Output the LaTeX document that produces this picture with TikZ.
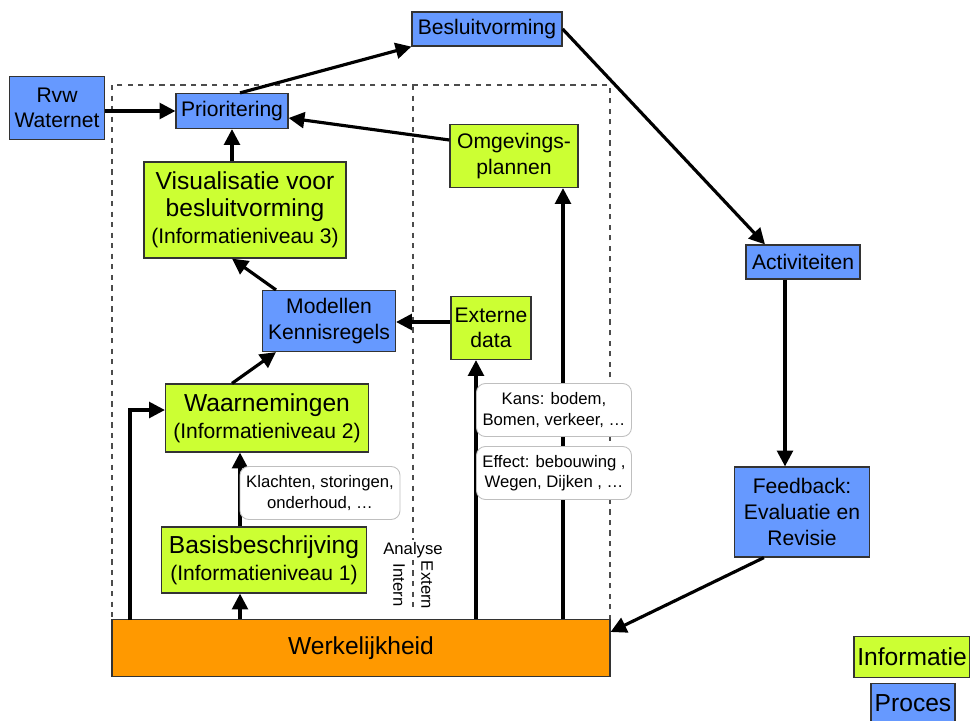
\documentclass[tikz,border=0pt]{standalone}
\usepackage{fontspec}
\setmainfont{Liberation Sans}
\usetikzlibrary{arrows.meta,calc}
\definecolor{infogreen}{RGB}{204,255,51}
\definecolor{procblue}{RGB}{102,153,255}
\definecolor{realorange}{RGB}{255,153,0}
\tikzset{
  box/.style={draw=black!80, line width=0.7pt, align=center, inner sep=1pt},
  info/.style={box, fill=infogreen},
  proc/.style={box, fill=procblue, font=\fontsize{12}{14.5}\selectfont},
  note/.style={draw=black!25, line width=0.5pt, rounded corners=5pt, fill=white, align=center,
    font=\fontsize{9.5}{11.5}\selectfont, minimum height=1.06cm},
  arr/.style={line width=1.8pt, -{Triangle[length=9pt,width=9pt]}},
}
\begin{document}
\begin{tikzpicture}[x=0.02cm, y=-0.02cm]
\useasboundingbox (0,0) rectangle (970,720);
% frame of the analysis
\draw[dashed, black!70, line width=0.7pt] (112,85) rectangle (610,620);
\node[font=\fontsize{9.5}{11}\selectfont, inner sep=1pt] (analyse) at (413,550) {Analyse};
\draw[dashed, black!70, line width=0.7pt] (413,85) -- (analyse.north);
\draw[dashed, black!70, line width=0.7pt] (analyse.south) -- (413,612);
\node[rotate=-90, font=\fontsize{9.5}{11}\selectfont, inner sep=0pt] (intern) at (399,585) {Intern};
\node[rotate=-90, font=\fontsize{9.5}{11}\selectfont, inner sep=0pt] (extern) at (427,585) {Extern};
% process boxes
\node[proc, minimum width=3cm, minimum height=0.68cm] (besluit) at (487,29) {Besluitvorming};
\node[proc, minimum width=1.9cm, minimum height=1.26cm] (rvw) at (57,108) {Rvw\\Waternet};
\node[proc, minimum width=2.24cm, minimum height=0.7cm] (prio) at (232,111) {Prioritering};
\node[proc, minimum width=2.66cm, minimum height=1.22cm] (model) at (329,321) {Modellen\\Kennisregels};
\node[proc, minimum width=2.28cm, minimum height=0.68cm] (activ) at (803,262) {Activiteiten};
\node[proc, minimum width=2.7cm, minimum height=1.8cm, font=\fontsize{12}{15}\selectfont] (feedback) at (802,512) {Feedback:\\Evaluatie en\\Revisie};
% information boxes
\node[info, minimum width=2.56cm, minimum height=1.26cm, font=\fontsize{12}{14.5}\selectfont] (omg) at (514,156) {Omgevings-\\plannen};
\node[info, minimum width=1.6cm, minimum height=1.26cm, font=\fontsize{12}{14.5}\selectfont] (externdata) at (491,328) {Externe\\data};
\node[info, minimum width=4.04cm, minimum height=1.92cm, font=\fontsize{14}{15.5}\selectfont] (visual) at (245,210)
  {Visualisatie voor\\besluitvorming\\{\fontsize{12}{14}\selectfont (Informatieniveau 3)}};
\node[info, minimum width=4.06cm, minimum height=1.36cm, font=\fontsize{14}{15.5}\selectfont] (waarn) at (267,418)
  {Waarnemingen\\{\fontsize{12}{14}\selectfont (Informatieniveau 2)}};
\node[info, minimum width=4.1cm, minimum height=1.32cm, font=\fontsize{14}{15.5}\selectfont] (basis) at (264,560)
  {Basisbeschrijving\\{\fontsize{12}{14}\selectfont (Informatieniveau 1)}};
\node[box, fill=realorange, minimum width=9.96cm, minimum height=1.14cm, font=\fontsize{14}{16}\selectfont] (werk) at (361,648) {Werkelijkheid};
% arrows
\draw[arr] (rvw.east |- prio.west) -- (prio.west);
\draw[arr] ($(prio.north)+(8,0)$) -- (besluit.south west);
\draw[arr] (besluit.east) -- ($(activ.north)+(-38,0)$);
\coordinate (a1) at ($(activ.south)+(-18,0)$);
\draw[arr] (a1) -- (a1 |- feedback.north);
\draw[arr] ($(feedback.south west)+(30,0)$) -- ($(werk.east)+(0,-16)$);
\draw[arr] ($(omg.west)+(0,-16)$) -- ($(prio.east)+(0,7)$);
\draw[arr] ($(visual.north)+(-13,0)$) -- (prio.south);
\draw[arr] ($(model.north)+(-53,0)$) -- ($(visual.south)+(-13,0)$);
\coordinate (e1) at ($(externdata.west)+(0,-6)$);
\draw[arr] (e1) -- (e1 -| model.east);
\draw[arr] ($(waarn.north)+(-35,0)$) -- ($(model.south)+(-53,0)$);
\coordinate (b1) at ($(basis.north)+(-24,0)$);
\draw[arr] (b1) -- (b1 |- waarn.south);
\draw[arr] (b1 |- werk.north) -- (b1 |- basis.south);
\coordinate (w1) at ($(waarn.west)+(0,-8)$);
\draw[arr] (130,620) |- (w1);
\coordinate (x1) at ($(externdata.south)+(-15,0)$);
\draw[arr] (x1 |- werk.north) -- (x1);
\coordinate (o1) at ($(omg.south)+(49,0)$);
\draw[arr] (o1 |- werk.north) -- (o1);
% notes
\node[note, minimum width=3.2cm] (klacht) at (320,493) {Klachten, storingen,\\onderhoud, \dots};
\node[note, minimum width=3.1cm] (kans) at (554,410) {Kans: bodem,\\Bomen, verkeer, \dots};
\node[note, minimum width=3.1cm] (effect) at (554,473) {Effect: bebouwing ,\\Wegen, Dijken , \dots};
% legend
\node[info, minimum width=2.32cm, minimum height=0.82cm, font=\fontsize{14}{16}\selectfont] (leginfo) at (912,657) {Informatie};
\node[proc, minimum width=1.68cm, minimum height=0.78cm, font=\fontsize{14}{16}\selectfont] (legproc) at (913,703) {Proces};
\end{tikzpicture}
\end{document}
